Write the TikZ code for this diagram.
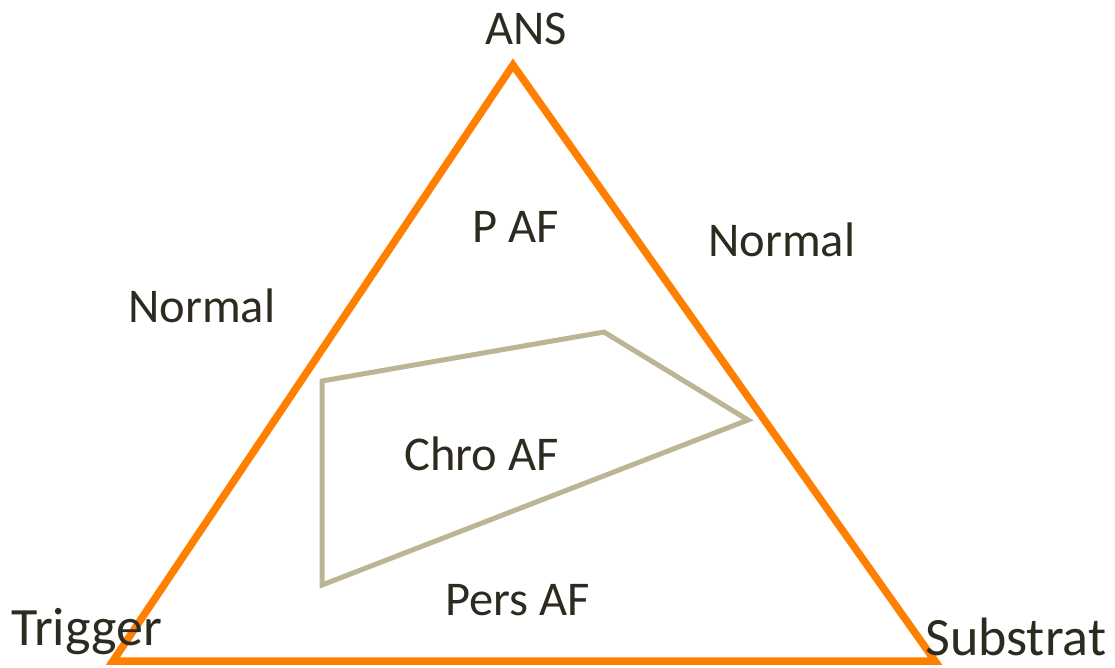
\documentclass[tikz,border=0pt]{standalone}
\usepackage{fontspec}
\setmainfont{Carlito}
\definecolor{tri}{RGB}{255,128,0}
\definecolor{poly}{RGB}{187,181,150}
\definecolor{txt}{RGB}{45,42,32}
\begin{document}
\begin{tikzpicture}[x=1pt,y=-1pt,
  lbl/.style={font=\fontsize{48.5}{52}\selectfont,text=txt,inner sep=0pt,anchor=base west},
  big/.style={lbl,font=\fontsize{54}{58}\selectfont}]
\useasboundingbox (0,0) rectangle (1115,667);
\coordinate (A) at (513,65);
\coordinate (B) at (113,661);
\coordinate (C) at (935,661);
\draw[tri,line width=7.5pt,line join=miter] (A) -- (B) -- (C) -- cycle;
\coordinate (p1) at (322,381);
\coordinate (p2) at (604,332);
\coordinate (p3) at (748,420);
\coordinate (p4) at (322,585);
\draw[poly,line width=5pt] (p1) -- (p2) -- (p3) -- (p4) -- cycle;
\node[lbl] (ans) at (485,44) {ANS};
\node[lbl] (paf) at (472,242) {P AF};
\node[lbl] (nr) at (708,256) {Normal};
\node[lbl] (nl) at (128,322) {Normal};
\node[lbl] (chro) at (404,470) {Chro AF};
\node[lbl] (pers) at (445,615) {Pers AF};
\node[big] (trig) at (11,645) {Trigger};
\node[big] (sub) at (925,655) {Substrat};
\end{tikzpicture}
\end{document}
